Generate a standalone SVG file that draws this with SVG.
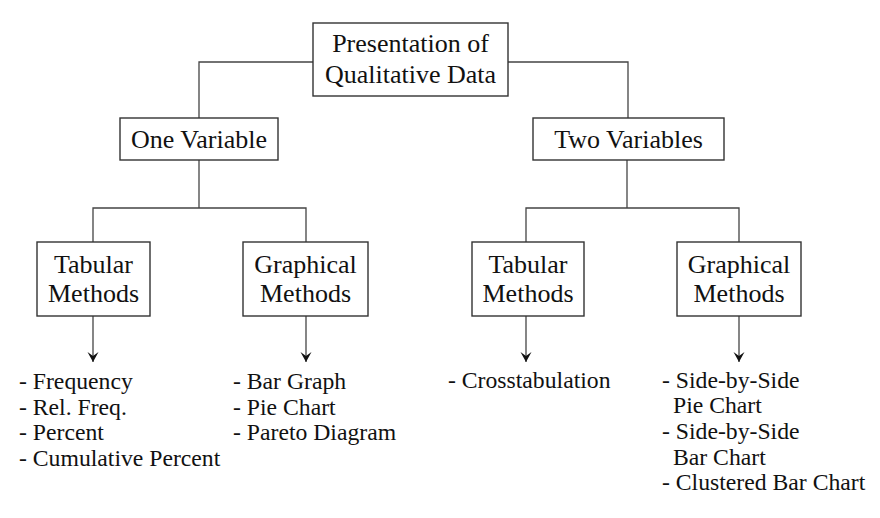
<svg xmlns="http://www.w3.org/2000/svg" width="880" height="518" viewBox="0 0 880 518">
<style>
.box{fill:#fff;stroke:#333;stroke-width:1.4}
.lbl{font-family:"Liberation Serif","Times New Roman",serif;font-size:26px;fill:#111;text-anchor:middle}
.lst{font-family:"Liberation Serif","Times New Roman",serif;font-size:23.7px;fill:#111}
.ln{fill:none;stroke:#444;stroke-width:1.3}
</style>
<defs>
<marker id="ah" markerWidth="12" markerHeight="12" viewBox="0 0 12 12" refX="11.5" refY="6" orient="auto" markerUnits="userSpaceOnUse">
<path d="M1.5,0.5 L11.5,6 L1.5,11.5 L5.5,6 Z" fill="#111"/>
</marker>
</defs>
<rect width="880" height="518" fill="#fff"/>
<g id="connectors">
<polyline class="ln" points="313,62 199,62 199,118"/>
<polyline class="ln" points="508,62 628,62 628,118"/>
<line class="ln" x1="199" y1="160" x2="199" y2="208"/>
<polyline class="ln" points="93,242 93,208 306,208 306,242"/>
<line class="ln" x1="627" y1="160" x2="627" y2="208"/>
<polyline class="ln" points="526,242 526,208 739,208 739,242"/>
<line class="ln" x1="93" y1="316" x2="93" y2="362" marker-end="url(#ah)"/>
<line class="ln" x1="306" y1="316" x2="306" y2="362" marker-end="url(#ah)"/>
<line class="ln" x1="526" y1="316" x2="526" y2="362" marker-end="url(#ah)"/>
<line class="ln" x1="739" y1="316" x2="739" y2="362" marker-end="url(#ah)"/>
</g>
<g id="root">
<rect class="box" x="313" y="23" width="195" height="73"/>
<text class="lbl" x="410.5" y="52">Presentation of</text>
<text class="lbl" x="410.5" y="83">Qualitative Data</text>
</g>
<g id="one-variable">
<rect class="box" x="120" y="118" width="158" height="42"/>
<text class="lbl" x="199" y="148">One Variable</text>
</g>
<g id="two-variables">
<rect class="box" x="533" y="118" width="191" height="42"/>
<text class="lbl" x="628.5" y="148">Two Variables</text>
</g>
<g id="tabular-1">
<rect class="box" x="37" y="242" width="113" height="74"/>
<text class="lbl" x="93.5" y="273">Tabular</text>
<text class="lbl" x="93.5" y="302">Methods</text>
</g>
<g id="graphical-1">
<rect class="box" x="243" y="242" width="125" height="74"/>
<text class="lbl" x="305.5" y="273">Graphical</text>
<text class="lbl" x="305.5" y="302">Methods</text>
</g>
<g id="tabular-2">
<rect class="box" x="472" y="242" width="112" height="74"/>
<text class="lbl" x="528" y="273">Tabular</text>
<text class="lbl" x="528" y="302">Methods</text>
</g>
<g id="graphical-2">
<rect class="box" x="677" y="242" width="124" height="74"/>
<text class="lbl" x="739" y="273">Graphical</text>
<text class="lbl" x="739" y="302">Methods</text>
</g>
<g id="list-1">
<text class="lst" x="19" y="389">- Frequency</text>
<text class="lst" x="19" y="415">- Rel. Freq.</text>
<text class="lst" x="19" y="440">- Percent</text>
<text class="lst" x="19" y="466">- Cumulative Percent</text>
</g>
<g id="list-2">
<text class="lst" x="233" y="389">- Bar Graph</text>
<text class="lst" x="233" y="415">- Pie Chart</text>
<text class="lst" x="233" y="440">- Pareto Diagram</text>
</g>
<g id="list-3">
<text class="lst" x="448" y="388">- Crosstabulation</text>
</g>
<g id="list-4">
<text class="lst" x="662" y="388">- Side-by-Side</text>
<text class="lst" x="673" y="413">Pie Chart</text>
<text class="lst" x="662" y="439">- Side-by-Side</text>
<text class="lst" x="673" y="465">Bar Chart</text>
<text class="lst" x="662" y="490">- Clustered Bar Chart</text>
</g>
</svg>
